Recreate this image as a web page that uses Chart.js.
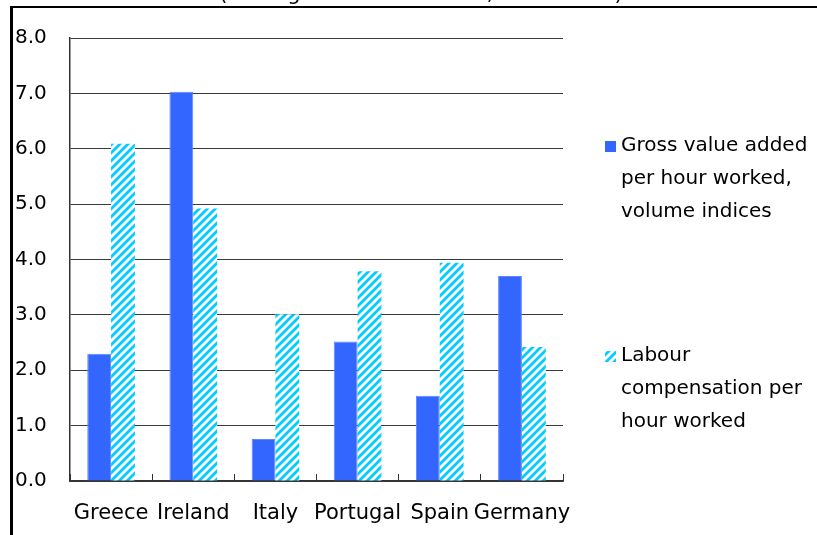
<!DOCTYPE html>
<html>
<head>
<meta charset="utf-8">
<script src="https://cdn.jsdelivr.net/npm/chart.js@4.4.1/dist/chart.umd.min.js"></script>
<style>
  html, body { margin: 0; padding: 0; background: #fff; }
</style>
</head>
<body>
<canvas id="myChart" width="817" height="535"></canvas>
<script>
// data
const countries = ['Greece', 'Ireland', 'Italy', 'Portugal', 'Spain', 'Germany'];
const grossValueAdded = [2.30, 7.03, 0.76, 2.52, 1.54, 3.70];
const labourCompensation = [6.09, 4.92, 3.01, 3.79, 3.94, 2.42];
const yMin = 0;
const yMax = 8;
const yStep = 1;
const legendGross = ['Gross value added', 'per hour worked,', 'volume indices'];
const legendLabour = ['Labour', 'compensation per', 'hour worked'];
const titleText = '(average annual increase, 1995-2007)';

const FONT = '"DejaVu Sans", sans-serif';
const BLUE = '#3366FF';
const CYAN = '#00CCFF';

// diagonal hatch for the labour series
const makeHatch = () => {
  const c = document.createElement('canvas');
  c.width = 8;
  c.height = 8;
  const g = c.getContext('2d');
  g.fillStyle = '#fff';
  g.fillRect(0, 0, 8, 8);
  g.strokeStyle = CYAN;
  g.lineWidth = 2.8;
  g.beginPath();
  g.moveTo(-2, 10); g.lineTo(10, -2);
  g.moveTo(-6, 6); g.lineTo(6, -6);
  g.moveTo(2, 14); g.lineTo(14, 2);
  g.stroke();
  return document.getElementById('myChart').getContext('2d').createPattern(c, 'repeat');
};
const hatch = makeHatch();

const extrasPlugin = {
  id: 'extras',
  afterDraw(chart) {
    const ctx = chart.ctx;
    const area = chart.chartArea;
    ctx.save();
    // title, mostly cut off by the top of the picture
    ctx.fillStyle = '#000';
    ctx.font = '21px ' + FONT;
    ctx.textAlign = 'center';
    ctx.textBaseline = 'alphabetic';
    ctx.fillText(titleText, 421, 0);

    // outer frame (top and left edges only show)
    ctx.fillRect(10, 6, chart.width - 10, 2);
    ctx.fillRect(10, 6, 3, chart.height);

    // legend
    const lx = area.right + 42;
    const drawEntry = (lines, y0, fill) => {
      ctx.fillStyle = fill;
      ctx.fillRect(lx, y0 - 5, 11, 11);
      ctx.fillStyle = '#000';
      ctx.textAlign = 'left';
      ctx.textBaseline = 'middle';
      ctx.font = '20px ' + FONT;
      lines.forEach((t, i) => ctx.fillText(t, lx + 16, y0 + i * 33));
    };
    drawEntry(legendGross, 146, BLUE);
    drawEntry(legendLabour, 356, hatch);
    ctx.restore();
  }
};

const ctx = document.getElementById('myChart').getContext('2d');
new Chart(ctx, {
  type: 'bar',
  data: {
    labels: countries,
    datasets: [
      {
        label: legendGross.join(' '),
        data: grossValueAdded,
        backgroundColor: BLUE,
        borderColor: '#5f86ff',
        borderWidth: 1,
        categoryPercentage: 0.58,
        barPercentage: 1.0
      },
      {
        label: legendLabour.join(' '),
        data: labourCompensation,
        backgroundColor: hatch,
        borderWidth: 0,
        categoryPercentage: 0.58,
        barPercentage: 1.0
      }
    ]
  },
  options: {
    responsive: false,
    animation: false,
    devicePixelRatio: 1,
    layout: { padding: { left: 15, right: 254, top: 38, bottom: 0 } },
    plugins: {
      legend: { display: false },
      title: { display: false },
      tooltip: { enabled: false }
    },
    scales: {
      x: {
        offset: true,
        grid: {
          offset: true,
          drawOnChartArea: false,
          drawTicks: true,
          tickLength: -7,
          color: '#333',
          lineWidth: 1
        },
        border: { display: true, color: '#333', width: 1.5 },
        ticks: {
          color: '#000',
          font: { family: FONT, size: 21 },
          padding: 27,
          maxRotation: 0,
          autoSkip: false
        },
        afterFit: (scale) => { scale.height = 54; }
      },
      y: {
        min: yMin,
        max: yMax,
        grid: { color: '#3a3a3a', lineWidth: 1, drawTicks: false },
        border: { display: true, color: '#333', width: 1.5 },
        ticks: {
          stepSize: yStep,
          color: '#000',
          crossAlign: 'far',
          font: { family: FONT, size: 20 },
          callback: (v) => Number(v).toFixed(1)
        },
        afterFit: (scale) => { scale.width = 55; }
      }
    }
  },
  plugins: [extrasPlugin]
});
</script>
</body>
</html>
